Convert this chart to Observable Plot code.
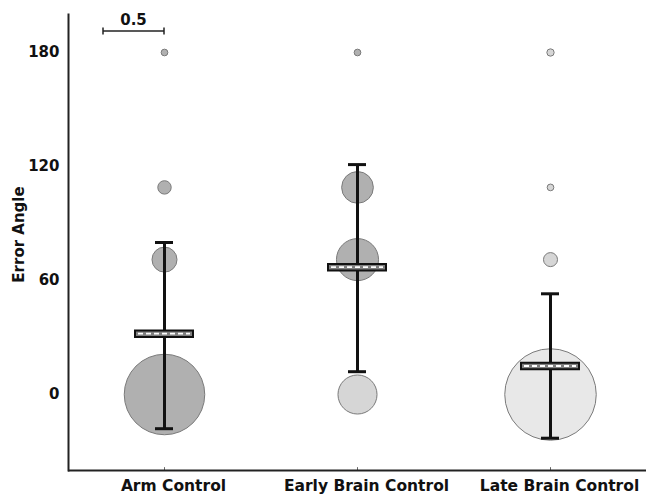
<!DOCTYPE html>
<html><head><meta charset="utf-8">
<script src="https://cdn.jsdelivr.net/npm/d3@7"></script>
<script src="https://cdn.jsdelivr.net/npm/@observablehq/plot@0.6"></script>
<style>body{margin:0;background:#fff} #chart{width:646px;height:494px}</style>
</head><body><div id="chart"></div>
<script>
const categories = ["Arm Control", "Early Brain Control", "Late Brain Control"];
const angleBins = [0, 71, 109, 180];
const armFractions = [0.66, 0.205, 0.11, 0.055];
const earlyFractions = [0.32, 0.345, 0.26, 0.055];
const lateFractions = [0.75, 0.115, 0.055, 0.06];
const armShade = ["mid", "mid", "mid", "mid"];
const earlyShade = ["light", "mid", "mid", "mid"];
const lateShade = ["pale", "light", "light", "light"];
const meanAngle = [32, 67, 15];
const lowAngle = [-18, 12, -23];
const highAngle = [80, 121, 53];
const yTicks = [0, 60, 120, 180];
const scaleBarFraction = 0.5;
const scaleBarAngle = 191;

const fractionsByCat = [armFractions, earlyFractions, lateFractions];
const shadeByCat = [armShade, earlyShade, lateShade];
const dots = [];
categories.forEach((c, i) => angleBins.forEach((a, j) => dots.push({cat: c, angle: a, frac: fractionsByCat[i][j], shade: shadeByCat[i][j]})));
const stats = categories.map((c, i) => ({cat: c, mean: meanAngle[i], low: lowAngle[i], high: highAngle[i]}));

const font = "'DejaVu Sans', sans-serif";
const p = Plot.plot({
  width: 646, height: 494,
  marginLeft: 68, marginRight: 0, marginTop: 14, marginBottom: 24,
  style: {fontFamily: font, fontWeight: "bold", fontSize: "15px", background: "#fff"},
  x: {type: "band", domain: categories, paddingInner: 0.69, paddingOuter: 0.34},
  y: {domain: [-40, 200]},
  r: {type: "linear", domain: [0, 1], range: [0, 61]},
  color: {domain: ["mid", "light", "pale"], range: ["#b0b0b0", "#d6d6d6", "#e8e8e8"]},
  marks: [
    Plot.dot(dots, {x: "cat", y: "angle", r: "frac", fill: "shade", stroke: "#7a7a7a", strokeWidth: 1}),
    Plot.ruleX(stats, {x: "cat", y1: "low", y2: "high", stroke: "#111", strokeWidth: 3}),
    Plot.tickY(stats, {x: "cat", y: "low", insetLeft: 21, insetRight: 21, stroke: "#111", strokeWidth: 3}),
    Plot.tickY(stats, {x: "cat", y: "high", insetLeft: 21, insetRight: 21, stroke: "#111", strokeWidth: 3}),
    Plot.tickY(stats, {x: "cat", y: "mean", stroke: "#111", strokeWidth: 8.5}),
    Plot.tickY(stats, {x: "cat", y: "mean", insetLeft: 2, insetRight: 2, stroke: "#808080", strokeWidth: 4.5}),
    Plot.tickY(stats, {x: "cat", y: "mean", insetLeft: 4, insetRight: 4, stroke: "#fff", strokeWidth: 1.8, strokeDasharray: "5,3"}),
    Plot.ruleX(categories, {x: d => d, y1: -40, y2: -38.5, stroke: "#666", strokeWidth: 1}),
    Plot.ruleY([-40], {stroke: "#222", strokeWidth: 2}),
    Plot.frame({anchor: "left", stroke: "#222", strokeWidth: 2}),
    Plot.axisY({ticks: yTicks, tickSize: 0, tickPadding: 9, fontSize: 15, fontWeight: "bold", fill: "#111", label: null}),
    Plot.axisX({tickSize: 0, tickPadding: 9, dx: 9, fontSize: 15.5, fontWeight: "bold", fill: "#111", label: null}),
    Plot.text(["Error Angle"], {frameAnchor: "left", textAnchor: "middle", rotate: -90, dx: -49, dy: -8, fontSize: 15, fontWeight: "bold", fill: "#111"})
  ]
});
document.getElementById("chart").appendChild(p);

// scale bar for circle diameter, drawn via the plot's own scales
const svg = d3.select(p.tagName.toLowerCase() === "svg" ? p : p.querySelector("svg"));
const xs = p.scale("x"), ys = p.scale("y"), rs = p.scale("r");
const xRight = xs.apply(categories[0]) + xs.bandwidth / 2;
const len = 2 * rs.apply(scaleBarFraction);
const yb = ys.apply(scaleBarAngle);
const g = svg.append("g").attr("stroke", "#222").attr("stroke-width", 1.5);
g.append("line").attr("x1", xRight - len).attr("x2", xRight).attr("y1", yb).attr("y2", yb);
g.append("line").attr("x1", xRight - len).attr("x2", xRight - len).attr("y1", yb - 3.5).attr("y2", yb + 3.5);
g.append("line").attr("x1", xRight).attr("x2", xRight).attr("y1", yb - 3.5).attr("y2", yb + 3.5);
svg.append("text").attr("x", xRight - len / 2).attr("y", yb - 6).attr("text-anchor", "middle")
  .attr("font-family", font).attr("font-weight", "bold").attr("font-size", 15).attr("fill", "#111")
  .text(String(scaleBarFraction));
</script></body></html>
